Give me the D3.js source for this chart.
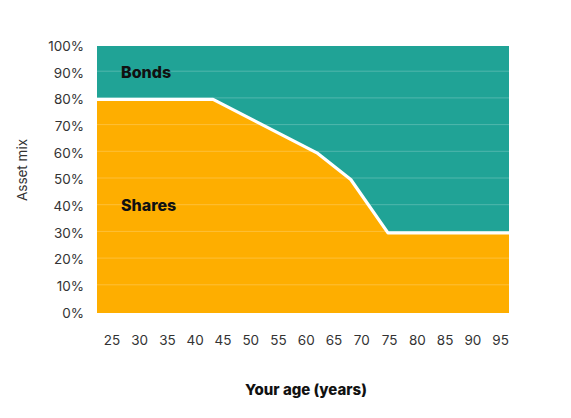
<!DOCTYPE html>
<html><head><meta charset="utf-8">
<script src="https://cdn.jsdelivr.net/npm/d3@7"></script>
<style>
html,body{margin:0;padding:0;background:#fff;}
svg{display:block;font-family:Inter,Lato,sans-serif;}
</style></head>
<body>
<svg id="c" width="571" height="418"></svg>
<script>
// data
const ages = [22.4, 43.3, 62, 68.1, 74.8, 96.6];
const sharesPct = [80, 80, 60, 50, 30, 30];
const xTicks = [25,30,35,40,45,50,55,60,65,70,75,80,85,90,95];
const yTicks = [0,10,20,30,40,50,60,70,80,90,100];
const seriesLabels = ["Bonds","Shares"];
const xTitle = "Your age (years)";
const yTitle = "Asset mix";

const FONT = "Inter, Lato, sans-serif";
const svg = d3.select("#c");
const m = {l:97, r:62, t:46, b:105};
const W = 571, H = 418;
const x = d3.scaleLinear().domain([ages[0], ages[ages.length-1]]).range([m.l, W-m.r]);
const y = d3.scaleLinear().domain([0,100]).range([H-m.b, m.t]);
const pts = ages.map((a,i)=>({a, v:sharesPct[i]}));

// bonds (teal) area
svg.append("path").datum(pts)
  .attr("fill","#20a396")
  .attr("d", d3.area().x(d=>x(d.a)).y0(y(100)).y1(d=>y(d.v)));
// shares (orange) area
svg.append("path").datum(pts)
  .attr("fill","#feae00")
  .attr("d", d3.area().x(d=>x(d.a)).y0(y(0)).y1(d=>y(d.v)));

// gridlines
svg.append("g").selectAll("line").data(yTicks.filter(t=>t>0 && t<100)).join("line")
  .attr("x1", x.range()[0]).attr("x2", x.range()[1])
  .attr("y1", d=>y(d)-1.5).attr("y2", d=>y(d)-1.5)
  .attr("stroke","#fff").attr("stroke-opacity",0.22).attr("stroke-width",1);

// boundary line
svg.append("path").datum(pts)
  .attr("fill","none").attr("stroke","#fff").attr("stroke-width",3.2)
  .attr("stroke-linejoin","round")
  .attr("d", d3.line().x(d=>x(d.a)).y(d=>y(d.v)));

// y axis
const ya = svg.append("g").attr("transform",`translate(${m.l},0)`)
  .call(d3.axisLeft(y).tickValues(yTicks).tickFormat(d=>d+"%").tickSize(0).tickPadding(13));
ya.select(".domain").remove();
ya.selectAll("text").attr("font-size",13.5).attr("fill","#333").attr("font-family",FONT);

// x axis
const xa = svg.append("g").attr("transform",`translate(0,${H-m.b})`)
  .call(d3.axisBottom(x).tickValues(xTicks).tickSize(0).tickPadding(22));
xa.select(".domain").remove();
xa.selectAll("text").attr("font-size",13.5).attr("fill","#333").attr("font-family",FONT);

// titles
svg.append("text").attr("x",(m.l+W-m.r)/2+3).attr("y",395)
  .attr("text-anchor","middle").attr("font-size",15).attr("font-weight",800).attr("fill","#111")
  .attr("font-family",FONT).text(xTitle);
svg.append("text").attr("transform","translate(27,170) rotate(-90)")
  .attr("text-anchor","middle").attr("font-size",13.5).attr("fill","#333")
  .attr("font-family",FONT).text(yTitle);

// series labels
svg.append("text").attr("x",121).attr("y",y(90)+5).attr("font-size",16).attr("font-weight",800).attr("fill","#111").attr("font-family",FONT).text(seriesLabels[0]);
svg.append("text").attr("x",121).attr("y",y(40)+5).attr("font-size",16).attr("font-weight",800).attr("fill","#111").attr("font-family",FONT).text(seriesLabels[1]);
</script>
</body></html>
